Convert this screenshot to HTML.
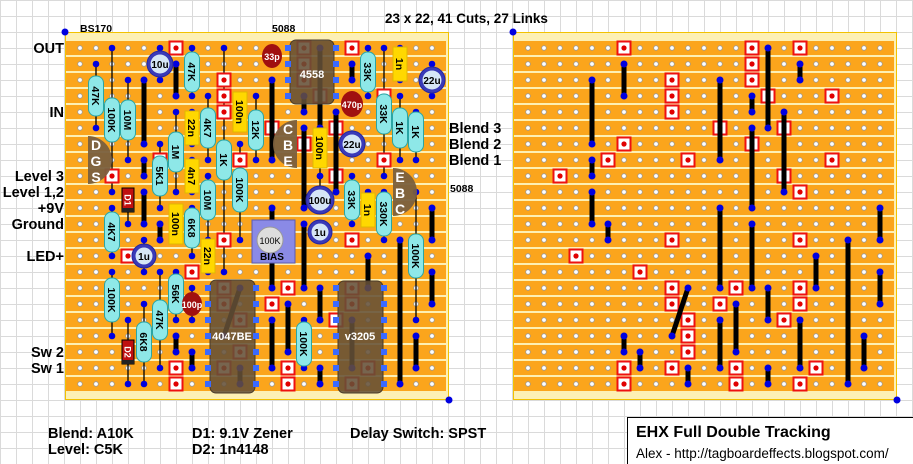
<!DOCTYPE html>
<html><head><meta charset="utf-8">
<style>
html,body{margin:0;padding:0}
body{width:913px;height:464px;overflow:hidden;position:relative;background-color:#fff;
background-image:linear-gradient(to right,#dadada 1px,transparent 1px),linear-gradient(to bottom,#dadada 1px,transparent 1px);
background-size:16px 16px;background-position:0 0;font-family:"Liberation Sans",sans-serif}
svg{position:absolute;left:0;top:0}
.lb{font:bold 14.5px "Liberation Sans",sans-serif;fill:#000}
.rt{font:bold 10.5px "Liberation Sans",sans-serif;fill:#000}
.ct{font:bold 10px "Liberation Sans",sans-serif;fill:#000}
.wt{font:bold 11px "Liberation Sans",sans-serif;fill:#fff}
.res rect{fill:#8ee8e8;stroke:#2aa5a5;stroke-width:1}
.yc rect{fill:#ffd800;stroke:#e0b800;stroke-width:1}
.ec circle.o{fill:#3a3ab8;stroke:#2525a0}
.ec circle.i{fill:#d6e6f6}
</style></head><body>
<svg id="s" width="913" height="464" xmlns="http://www.w3.org/2000/svg">
<g id="boards"></g>
<g id="comp">
<rect x="290" y="40" width="44" height="64" rx="6" fill="rgba(100,80,55,0.88)" stroke="#4a3a28"/>
<text class="wt" x="312" y="78" text-anchor="middle">4558</text>
<rect x="210" y="280" width="45" height="113" rx="6" fill="rgba(100,80,55,0.88)" stroke="#4a3a28"/>
<text class="wt" x="232" y="340" text-anchor="middle">4047BE</text>
<rect x="338" y="281" width="45" height="112" rx="6" fill="rgba(100,80,55,0.88)" stroke="#4a3a28"/>
<text class="wt" x="360" y="340" text-anchor="middle">v3205</text>
<path d="M88,136 A24,24 0 0 1 88,184 Z" fill="#7a5f3e" opacity="0.95"/>
<text class="wt" style="font-size:14px" x="96" y="150" text-anchor="middle">D</text>
<text class="wt" style="font-size:14px" x="96" y="166" text-anchor="middle">G</text>
<text class="wt" style="font-size:14px" x="96" y="182" text-anchor="middle">S</text>
<path d="M297,120 A24,24 0 0 0 297,168 Z" fill="#7a5f3e" opacity="0.95"/>
<text class="wt" style="font-size:14px" x="288" y="134" text-anchor="middle">C</text>
<text class="wt" style="font-size:14px" x="288" y="150" text-anchor="middle">B</text>
<text class="wt" style="font-size:14px" x="288" y="166" text-anchor="middle">E</text>
<path d="M393,168 A24,24 0 0 1 393,216 Z" fill="#7a5f3e" opacity="0.95"/>
<text class="wt" style="font-size:14px" x="400" y="182" text-anchor="middle">E</text>
<text class="wt" style="font-size:14px" x="400" y="198" text-anchor="middle">B</text>
<text class="wt" style="font-size:14px" x="400" y="214" text-anchor="middle">C</text>
<rect x="252" y="220" width="43" height="43" fill="#8a8ae6" stroke="#5a5ab0"/>
<circle cx="270" cy="240" r="13" fill="#ddd" stroke="#999"/>
<text x="270" y="244" text-anchor="middle" style="font:9px 'Liberation Sans',sans-serif">100K</text>
<text class="ct" x="272" y="260" text-anchor="middle">BIAS</text>
<g class="res">
<g transform="translate(96,96)"><rect x="-7.5" y="-20" width="15" height="40" rx="7"/><text class="rt" transform="rotate(90)" text-anchor="middle" y="4">47K</text></g>
<g transform="translate(112,120)"><rect x="-7.5" y="-22" width="15" height="44" rx="7"/><text class="rt" transform="rotate(90)" text-anchor="middle" y="4">100K</text></g>
<g transform="translate(128,120)"><rect x="-7.5" y="-20" width="15" height="40" rx="7"/><text class="rt" transform="rotate(90)" text-anchor="middle" y="4">10M</text></g>
<g transform="translate(192,72)"><rect x="-7.5" y="-20" width="15" height="40" rx="7"/><text class="rt" transform="rotate(90)" text-anchor="middle" y="4">47K</text></g>
<g transform="translate(208,128)"><rect x="-7.5" y="-20" width="15" height="40" rx="7"/><text class="rt" transform="rotate(90)" text-anchor="middle" y="4">4K7</text></g>
<g transform="translate(176,152)"><rect x="-7.5" y="-20" width="15" height="40" rx="7"/><text class="rt" transform="rotate(90)" text-anchor="middle" y="4">1M</text></g>
<g transform="translate(160,176)"><rect x="-7.5" y="-20" width="15" height="40" rx="7"/><text class="rt" transform="rotate(90)" text-anchor="middle" y="4">5K1</text></g>
<g transform="translate(208,200)"><rect x="-7.5" y="-20" width="15" height="40" rx="7"/><text class="rt" transform="rotate(90)" text-anchor="middle" y="4">10M</text></g>
<g transform="translate(224,160)"><rect x="-7.5" y="-20" width="15" height="40" rx="7"/><text class="rt" transform="rotate(90)" text-anchor="middle" y="4">1K</text></g>
<g transform="translate(240,190)"><rect x="-7.5" y="-22" width="15" height="44" rx="7"/><text class="rt" transform="rotate(90)" text-anchor="middle" y="4">100K</text></g>
<g transform="translate(256,130)"><rect x="-7.5" y="-20" width="15" height="40" rx="7"/><text class="rt" transform="rotate(90)" text-anchor="middle" y="4">12K</text></g>
<g transform="translate(112,232)"><rect x="-7.5" y="-20" width="15" height="40" rx="7"/><text class="rt" transform="rotate(90)" text-anchor="middle" y="4">4K7</text></g>
<g transform="translate(192,228)"><rect x="-7.5" y="-20" width="15" height="40" rx="7"/><text class="rt" transform="rotate(90)" text-anchor="middle" y="4">6K8</text></g>
<g transform="translate(112,300)"><rect x="-7.5" y="-22" width="15" height="44" rx="7"/><text class="rt" transform="rotate(90)" text-anchor="middle" y="4">100K</text></g>
<g transform="translate(176,294)"><rect x="-7.5" y="-20" width="15" height="40" rx="7"/><text class="rt" transform="rotate(90)" text-anchor="middle" y="4">56K</text></g>
<g transform="translate(160,320)"><rect x="-7.5" y="-20" width="15" height="40" rx="7"/><text class="rt" transform="rotate(90)" text-anchor="middle" y="4">47K</text></g>
<g transform="translate(144,342)"><rect x="-7.5" y="-20" width="15" height="40" rx="7"/><text class="rt" transform="rotate(90)" text-anchor="middle" y="4">6K8</text></g>
<g transform="translate(304,344)"><rect x="-7.5" y="-22" width="15" height="44" rx="7"/><text class="rt" transform="rotate(90)" text-anchor="middle" y="4">100K</text></g>
<g transform="translate(368,72)"><rect x="-7.5" y="-20" width="15" height="40" rx="7"/><text class="rt" transform="rotate(90)" text-anchor="middle" y="4">33K</text></g>
<g transform="translate(384,114)"><rect x="-7.5" y="-20" width="15" height="40" rx="7"/><text class="rt" transform="rotate(90)" text-anchor="middle" y="4">33K</text></g>
<g transform="translate(400,128)"><rect x="-7.5" y="-20" width="15" height="40" rx="7"/><text class="rt" transform="rotate(90)" text-anchor="middle" y="4">1K</text></g>
<g transform="translate(416,132)"><rect x="-7.5" y="-20" width="15" height="40" rx="7"/><text class="rt" transform="rotate(90)" text-anchor="middle" y="4">1K</text></g>
<g transform="translate(352,200)"><rect x="-7.5" y="-20" width="15" height="40" rx="7"/><text class="rt" transform="rotate(90)" text-anchor="middle" y="4">33K</text></g>
<g transform="translate(384,214)"><rect x="-7.5" y="-22" width="15" height="44" rx="7"/><text class="rt" transform="rotate(90)" text-anchor="middle" y="4">330K</text></g>
<g transform="translate(416,256)"><rect x="-7.5" y="-22" width="15" height="44" rx="7"/><text class="rt" transform="rotate(90)" text-anchor="middle" y="4">100K</text></g>
</g>
<g class="yc">
<g transform="translate(192,128)"><rect x="-7" y="-17" width="14" height="34"/><text class="rt" transform="rotate(90)" text-anchor="middle" y="4">22n</text></g>
<g transform="translate(240,112)"><rect x="-7" y="-20" width="14" height="40"/><text class="rt" transform="rotate(90)" text-anchor="middle" y="4">100n</text></g>
<g transform="translate(192,176)"><rect x="-7" y="-17" width="14" height="34"/><text class="rt" transform="rotate(90)" text-anchor="middle" y="4">4n7</text></g>
<g transform="translate(176,224)"><rect x="-7" y="-20" width="14" height="40"/><text class="rt" transform="rotate(90)" text-anchor="middle" y="4">100n</text></g>
<g transform="translate(208,256)"><rect x="-7" y="-17" width="14" height="34"/><text class="rt" transform="rotate(90)" text-anchor="middle" y="4">22n</text></g>
<g transform="translate(400,64)"><rect x="-7" y="-17" width="14" height="34"/><text class="rt" transform="rotate(90)" text-anchor="middle" y="4">1n</text></g>
<g transform="translate(320,148)"><rect x="-7" y="-20" width="14" height="40"/><text class="rt" transform="rotate(90)" text-anchor="middle" y="4">100n</text></g>
<g transform="translate(368,210)"><rect x="-7" y="-17" width="14" height="34"/><text class="rt" transform="rotate(90)" text-anchor="middle" y="4">1n</text></g>
</g>
<g class="ec">
<circle class="o" cx="160" cy="64" r="13"/><circle class="i" cx="160" cy="64" r="9.5"/><text class="ct" x="160" y="68" text-anchor="middle">10u</text>
<circle class="o" cx="432" cy="80" r="13"/><circle class="i" cx="432" cy="80" r="9.5"/><text class="ct" x="432" y="84" text-anchor="middle">22u</text>
<circle class="o" cx="352" cy="144" r="13"/><circle class="i" cx="352" cy="144" r="9.5"/><text class="ct" x="352" y="148" text-anchor="middle">22u</text>
<circle class="o" cx="320" cy="200" r="14"/><circle class="i" cx="320" cy="200" r="10.5"/><text class="ct" x="320" y="204" text-anchor="middle">100u</text>
<circle class="o" cx="144" cy="256" r="12"/><circle class="i" cx="144" cy="256" r="8.5"/><text class="ct" x="144" y="260" text-anchor="middle">1u</text>
<circle class="o" cx="320" cy="232" r="12"/><circle class="i" cx="320" cy="232" r="8.5"/><text class="ct" x="320" y="236" text-anchor="middle">1u</text>
</g>
<ellipse cx="272" cy="56" rx="10" ry="12" fill="#a01010"/><text x="272" y="60" text-anchor="middle" style="font:bold 9px 'Liberation Sans',sans-serif;fill:#fff">33p</text>
<ellipse cx="352" cy="104" rx="11" ry="13" fill="#a01010"/><text x="352" y="108" text-anchor="middle" style="font:bold 9px 'Liberation Sans',sans-serif;fill:#fff">470p</text>
<ellipse cx="192" cy="304" rx="10" ry="12" fill="#a01010"/><text x="192" y="308" text-anchor="middle" style="font:bold 9px 'Liberation Sans',sans-serif;fill:#fff">100p</text>
<g transform="translate(128,200)"><rect x="-6" y="-12" width="12" height="24" fill="#c01010" stroke="#000"/><rect x="-6" y="8" width="12" height="4" fill="#222"/><text transform="rotate(90)" text-anchor="middle" y="3.5" style="font:bold 9px 'Liberation Sans',sans-serif;fill:#fff">D1</text></g>
<g transform="translate(128,352)"><rect x="-6" y="-12" width="12" height="24" fill="#c01010" stroke="#000"/><rect x="-6" y="8" width="12" height="4" fill="#222"/><text transform="rotate(90)" text-anchor="middle" y="3.5" style="font:bold 9px 'Liberation Sans',sans-serif;fill:#fff">D2</text></g>
</g>
<text x="80" y="32" style="font:bold 10.5px 'Liberation Sans',sans-serif">BS170</text>
<text x="272" y="32" style="font:bold 10.5px 'Liberation Sans',sans-serif">5088</text>
<text x="450" y="192" style="font:bold 10.5px 'Liberation Sans',sans-serif">5088</text>
<text x="385" y="23" style="font:bold 13.5px 'Liberation Sans',sans-serif">23 x 22, 41 Cuts, 27 Links</text>
<g class="lb" text-anchor="end">
<text x="64" y="53">OUT</text><text x="64" y="117">IN</text>
<text x="64" y="181">Level 3</text><text x="64" y="197">Level 1,2</text><text x="64" y="213">+9V</text>
<text x="64" y="229">Ground</text><text x="64" y="261">LED+</text>
<text x="64" y="357">Sw 2</text><text x="64" y="373">Sw 1</text>
</g>
<g class="lb">
<text x="449" y="133">Blend 3</text><text x="449" y="149">Blend 2</text><text x="449" y="165">Blend 1</text>
<text x="48" y="438">Blend: A10K</text><text x="48" y="454">Level: C5K</text>
<text x="192" y="438">D1: 9.1V Zener</text><text x="192" y="454">D2: 1n4148</text>
<text x="350" y="438">Delay Switch: SPST</text>
</g>
<rect x="627.5" y="417.5" width="290" height="50" fill="#fff" stroke="#000"/>
<text x="636" y="437" style="font:bold 16px 'Liberation Sans',sans-serif">EHX Full Double Tracking</text>
<text x="636" y="458" style="font:13.5px 'Liberation Sans',sans-serif">Alex - http://tagboardeffects.blogspot.com/</text>
</svg>
<script>
(function(){
var NS="http://www.w3.org/2000/svg",B=document.getElementById("boards"),C=document.getElementById("comp");
function el(n,a,p){var e=document.createElementNS(NS,n);for(var k in a)e.setAttribute(k,a[k]);(p||B).appendChild(e);return e;}
function board(x0,cx0,cuts,links,leads,diag){
 el("rect",{x:x0+0.5,y:32.5,width:383,height:367,fill:"#fdf0b4",stroke:"#f2c200"});
 for(var r=0;r<22;r++){el("rect",{x:x0+1,y:41+16*r,width:380,height:14,fill:"#fba51c"});}
 for(r=0;r<22;r++)for(var c=0;c<23;c++)el("circle",{cx:cx0+16*c,cy:48+16*r,r:2.3,fill:"#fff",stroke:"#999","stroke-width":0.8});
 var LG=el("g",{}),XG=el("g",{});
 leads.forEach(function(l){var x=cx0+16*l[0];el("line",{x1:x,y1:48+16*l[1],x2:x,y2:48+16*l[2],stroke:"#000","stroke-width":1.3},LG);
  el("circle",{cx:x,cy:48+16*l[1],r:3.3,fill:"#0000e0"},LG);el("circle",{cx:x,cy:48+16*l[2],r:3.3,fill:"#0000e0"},LG);});
 cuts.forEach(function(k){var x=cx0+16*k[0],y=48+16*k[1];el("rect",{x:x-6.5,y:y-6.5,width:13,height:13,fill:"#fff",stroke:"#ee1010","stroke-width":2},XG);el("circle",{cx:x,cy:y,r:2.6,fill:"#e00000"},XG);});
 links.forEach(function(l){var x=cx0+16*l[0];el("line",{x1:x,y1:48+16*l[1],x2:x,y2:48+16*l[2],stroke:"#000","stroke-width":5},XG);
  el("circle",{cx:x,cy:48+16*l[1],r:3.5,fill:"#0000e0"},XG);el("circle",{cx:x,cy:48+16*l[2],r:3.5,fill:"#0000e0"},XG);});
 (diag||[]).forEach(function(d){var x1=cx0+16*d[0],y1=48+16*d[1],x2=cx0+16*d[2],y2=48+16*d[3];el("line",{x1:x1,y1:y1,x2:x2,y2:y2,stroke:"#000","stroke-width":5},XG);
  el("circle",{cx:x1,cy:y1,r:3.5,fill:"#0000e0"},XG);el("circle",{cx:x2,cy:y2,r:3.5,fill:"#0000e0"},XG);});
 el("circle",{cx:x0,cy:32,r:3.5,fill:"#0000e0"});el("circle",{cx:x0+384,cy:400,r:3.5,fill:"#0000e0"});
}
var lcuts=[[6,0],[9,2],[9,3],[9,4],[10,7],[2,8],[5,7],[12,5],[14,0],[14,1],[14,2],[15,3],[17,0],[19,3],[14,6],[16,5],[16,8],[19,7],[9,12],[3,13],[7,14],[17,12],[13,15],[12,16],[16,17],[9,15],[9,16],[10,17],[10,19],[9,20],[17,15],[17,16],[18,20],[17,21],[13,20],[13,21],[6,20],[6,21]];
var llinks=[[4,2,6],[6,1,3],[4,7,8],[4,9,11],[5,11,12],[12,2,7],[15,0,5],[14,3,4],[14,5,10],[16,4,9],[17,1,2],[22,10,12],[12,10,15],[14,11,15],[18,13,15],[20,12,21],[22,14,16],[21,18,20],[15,15,17],[13,16,19],[12,17,20],[17,17,20],[15,20,21],[6,18,19],[7,19,20],[10,20,21]];
var lleads=[[1,1,5],[2,0,9],[3,2,7],[7,0,3],[8,3,7],[6,4,9],[5,6,10],[8,8,12],[9,0,14],[10,6,12],[11,3,7],[2,10,13],[7,10,13],[2,14,18],[6,14,17],[5,14,20],[4,16,21],[14,17,20],[18,0,3],[19,0,8],[20,3,7],[21,4,7],[17,9,11],[19,9,12],[21,9,17],
 [7,4,6],[10,3,5],[7,7,9],[6,10,12],[8,12,14],[20,0,2],[15,5,8],[18,9,11],[5,0,2],[22,1,3],[17,8,10],[15,8,10],[3,9,11],[3,17,21],[12,0,1],[17,3,4],[15,11,12],[4,12,14],[7,15,17]];
board(65,80,lcuts,llinks,lleads,[[10,15,9,18]]);
var rcuts=[[6,0],[14,0],[17,0],[14,1],[9,2],[14,2],[9,3],[15,3],[19,3],[9,4],[12,5],[16,5],[6,6],[14,6],[5,7],[10,7],[19,7],[2,8],[16,8],[17,9],[9,12],[17,12],[3,13],[7,14],[9,15],[13,15],[17,15],[9,16],[12,16],[17,16],[10,17],[16,17],[10,18],[10,19],[6,20],[9,20],[13,20],[18,20],[6,21],[13,21],[17,21]];
var rlinks=[[4,2,6],[6,1,3],[12,2,7],[15,0,5],[17,1,2],[14,3,4],[14,5,10],[16,4,9],[4,7,8],[4,9,11],[12,10,15],[22,10,12],[5,11,12],[14,11,15],[20,12,21],[18,13,15],[22,14,16],[15,15,17],[13,16,19],[12,17,20],[17,17,20],[6,18,19],[21,18,20],[7,19,20],[10,20,21],[15,20,21]];
board(513,528,rcuts,rlinks,[],[[10,15,9,18]]);
[[8,11,15,21],[13,16,0,3],[16,19,15,21]].forEach(function(p){for(var r=p[2];r<=p[3];r++){[p[0],p[1]].forEach(function(c){el("rect",{x:80+16*c-3,y:48+16*r-3,width:6,height:6,fill:"#3a6aff"},C);});}});
})();
</script>
</body></html>
